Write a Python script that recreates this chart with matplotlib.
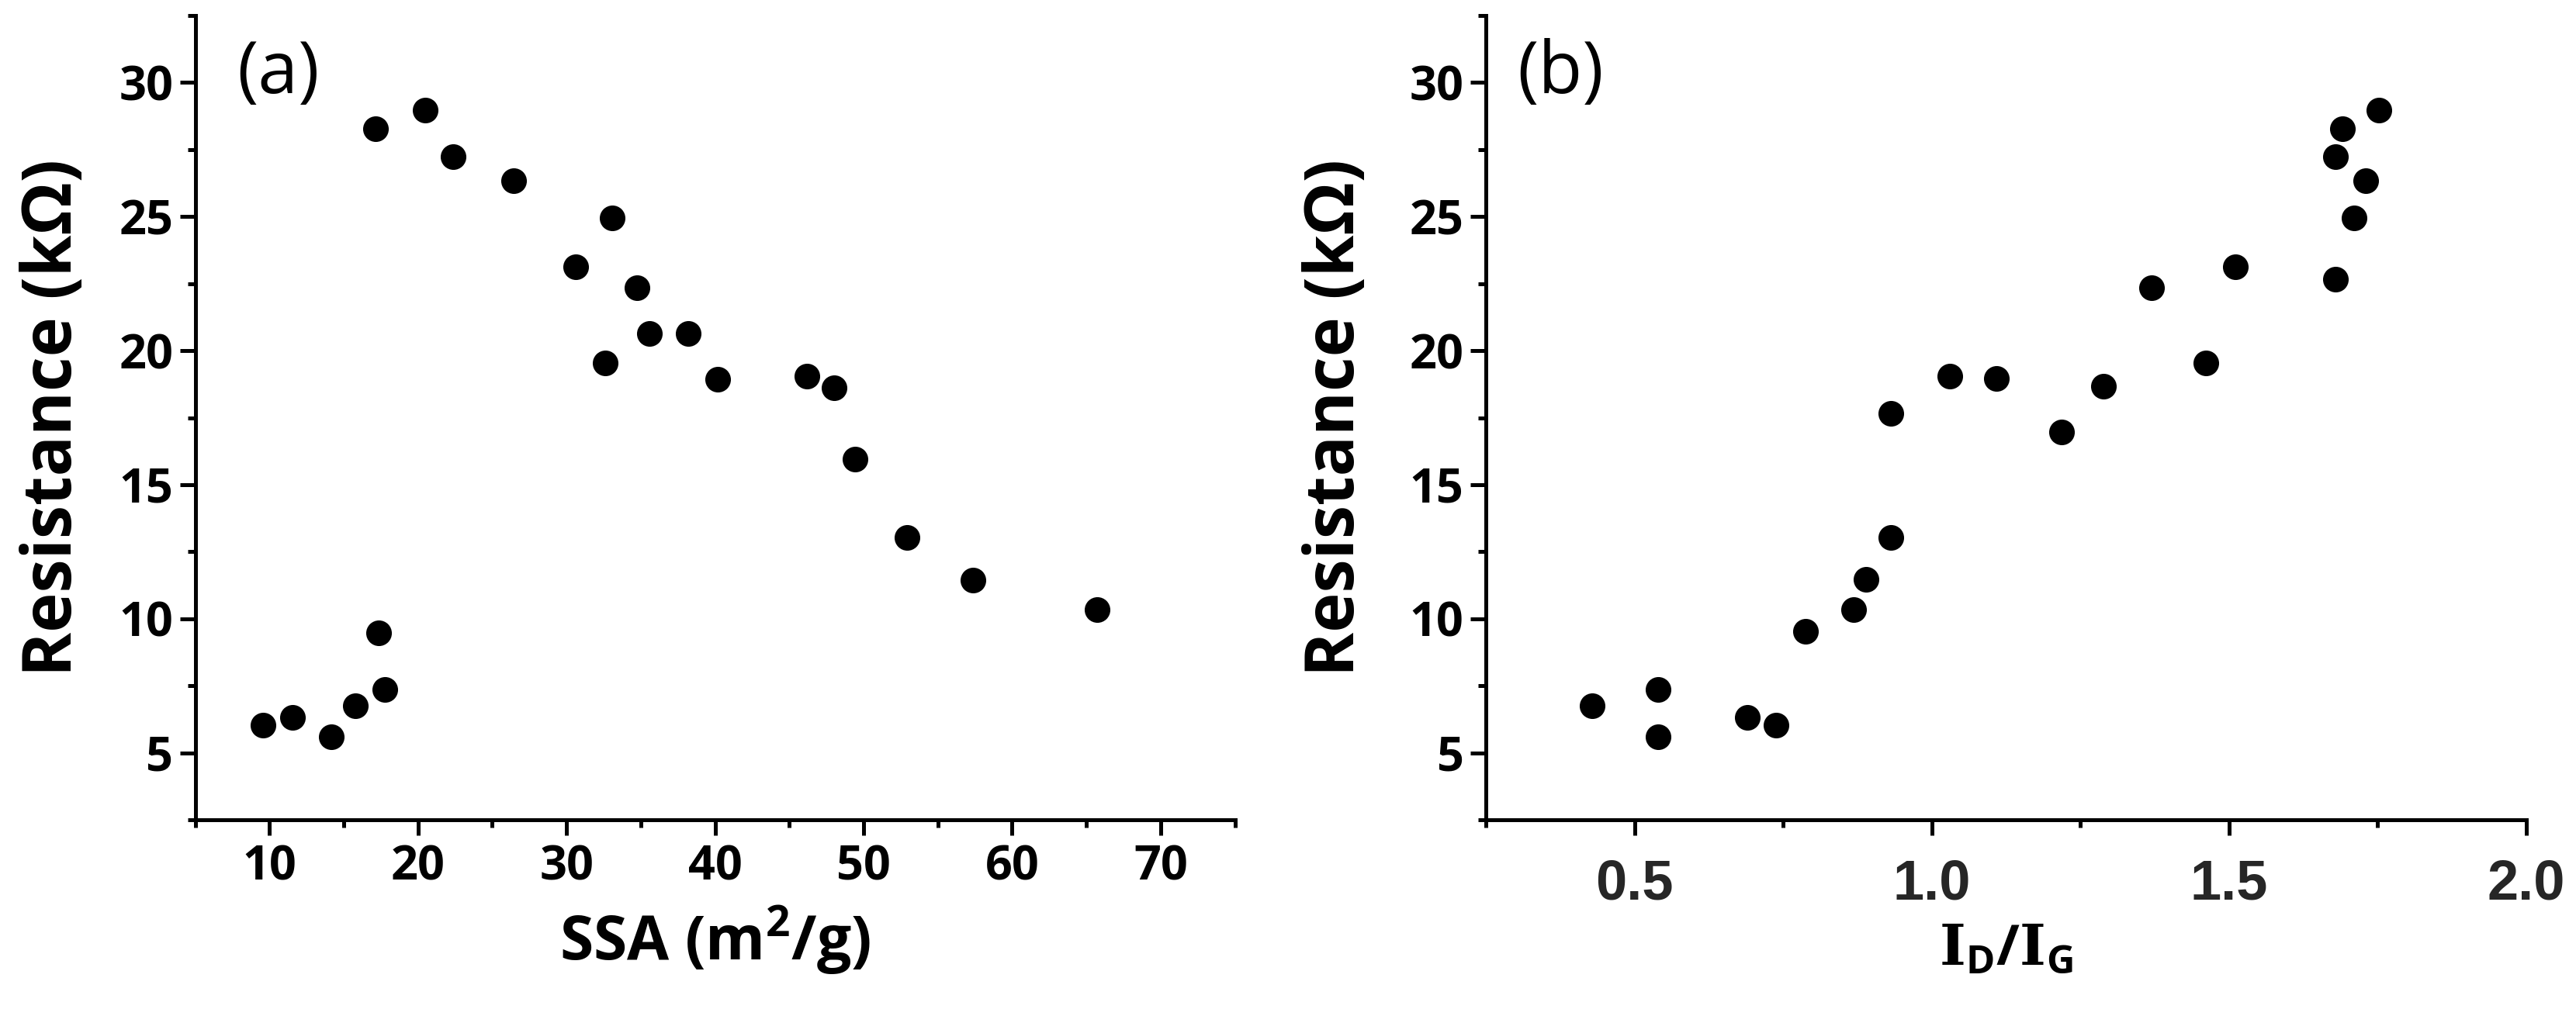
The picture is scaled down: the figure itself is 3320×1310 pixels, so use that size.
import matplotlib
matplotlib.use("Agg")
import matplotlib.pyplot as plt
from matplotlib.ticker import MultipleLocator

# ---------------- data ----------------
ssa = [9.56, 11.55, 14.15, 15.8, 17.75, 17.36, 17.14, 20.5, 22.34, 26.44, 33.08,
       30.59, 34.74, 35.57, 38.17, 32.58, 40.16, 46.19, 48.02, 49.4, 52.94, 57.37, 65.73]
res_a = [6.02, 6.33, 5.61, 6.74, 7.35, 9.48, 28.28, 28.96, 27.24, 26.34, 24.96,
         23.14, 22.35, 20.65, 20.65, 19.53, 18.93, 19.05, 18.61, 15.95, 13.04, 11.44, 10.33]

id_ig = [0.429, 0.540, 0.540, 0.690, 0.738, 0.788, 0.868, 0.889, 0.931, 0.931, 1.030,
         1.109, 1.219, 1.289, 1.370, 1.461, 1.511, 1.679, 1.710, 1.679, 1.730, 1.691, 1.752]
res_b = [6.74, 7.35, 5.61, 6.31, 6.02, 9.53, 10.33, 11.47, 13.04, 17.65, 19.05,
         18.95, 16.97, 18.66, 22.35, 19.53, 23.14, 22.66, 24.96, 27.24, 26.34, 28.28, 28.96]

xlabel_a = r'SSA (m$^{\mathsf{2}}$/g)'
xlabel_b = r'$\mathbf{I}_{\mathsf{D}}\mathsf{/}\mathbf{I}_{\mathsf{G}}$'
ylabel = 'Resistance (kΩ)'
panel_tags = ['(a)', '(b)']

# ---------------- style ----------------
plt.rcParams['mathtext.fontset'] = 'custom'
plt.rcParams['mathtext.bf'] = 'DejaVu Serif:bold'
plt.rcParams['mathtext.sf'] = 'Open Sans:bold'
plt.rcParams['mathtext.rm'] = 'Open Sans:bold'

LAB_FONT = dict(family='Open Sans', weight='bold')
TICK_FONT = dict(family='Open Sans', weight='bold', size=44)

fig = plt.figure(figsize=(33.2, 13.1), dpi=100)
ax1 = fig.add_axes([0.0758, 0.1931, 0.4036, 0.7916])
ax2 = fig.add_axes([0.5768, 0.1931, 0.4039, 0.7916])


def style_axes(ax):
    for s in ['top', 'right']:
        ax.spines[s].set_visible(False)
    for s in ['left', 'bottom']:
        ax.spines[s].set_linewidth(3.6)
    ax.tick_params(which='major', direction='out', length=14.4, width=3.6)
    ax.tick_params(which='minor', direction='out', length=7.2, width=3.6)
    ax.set_ylim(2.5, 32.5)
    ax.yaxis.set_major_locator(MultipleLocator(5))
    ax.yaxis.set_minor_locator(MultipleLocator(2.5))
    ax.set_yticks([5, 10, 15, 20, 25, 30])
    ax.tick_params(axis='y', which='major', pad=6)
    for lab in ax.get_yticklabels():
        lab.set_fontfamily(TICK_FONT['family'])
        lab.set_fontweight('bold')
        lab.set_fontsize(44)


# panel (a)
ax1.plot(ssa, res_a, 'o', color='black', markersize=23.8, markeredgewidth=0)
ax1.set_xlim(5, 75)
ax1.xaxis.set_major_locator(MultipleLocator(10))
ax1.xaxis.set_minor_locator(MultipleLocator(5))
ax1.set_xticks([10, 20, 30, 40, 50, 60, 70])
style_axes(ax1)
ax1.tick_params(axis='x', which='major', pad=8)
for lab in ax1.get_xticklabels():
    lab.set_fontfamily('Open Sans')
    lab.set_fontweight('bold')
    lab.set_fontsize(44)

# panel (b)
ax2.plot(id_ig, res_b, 'o', color='black', markersize=23.8, markeredgewidth=0)
ax2.set_xlim(0.25, 2.0)
ax2.xaxis.set_major_locator(MultipleLocator(0.5))
ax2.xaxis.set_minor_locator(MultipleLocator(0.25))
ax2.set_xticks([0.5, 1.0, 1.5, 2.0])
style_axes(ax2)
ax2.tick_params(axis='x', which='major', pad=21, labelcolor='#262626')
for lab in ax2.get_xticklabels():
    lab.set_fontfamily('Liberation Sans')
    lab.set_fontweight('bold')
    lab.set_fontsize(52)

# labels
for ax, xl, xb, yb in [(ax1, xlabel_a, -0.1745, -0.1192), (ax2, xlabel_b, -0.1793, -0.1268)]:
    ax.set_ylabel(ylabel, fontsize=62.5, va='baseline', **LAB_FONT)
    ax.yaxis.set_label_coords(yb, 0.5)
ax1.set_xlabel(xlabel_a, fontsize=56.5, va='baseline', **LAB_FONT)
ax1.xaxis.set_label_coords(0.5, -0.1745)
ax2.set_xlabel(xlabel_b, fontsize=52, va='baseline')
ax2.xaxis.set_label_coords(0.5, -0.1793)

ax1.text(0.0398, 0.9036, panel_tags[0], transform=ax1.transAxes, family='Open Sans',
         fontsize=67, ha='left', va='baseline')
ax2.text(0.0298, 0.9036, panel_tags[1], transform=ax2.transAxes, family='Open Sans',
         fontsize=67, ha='left', va='baseline')

fig.savefig('out.png', dpi=100, facecolor='white')
